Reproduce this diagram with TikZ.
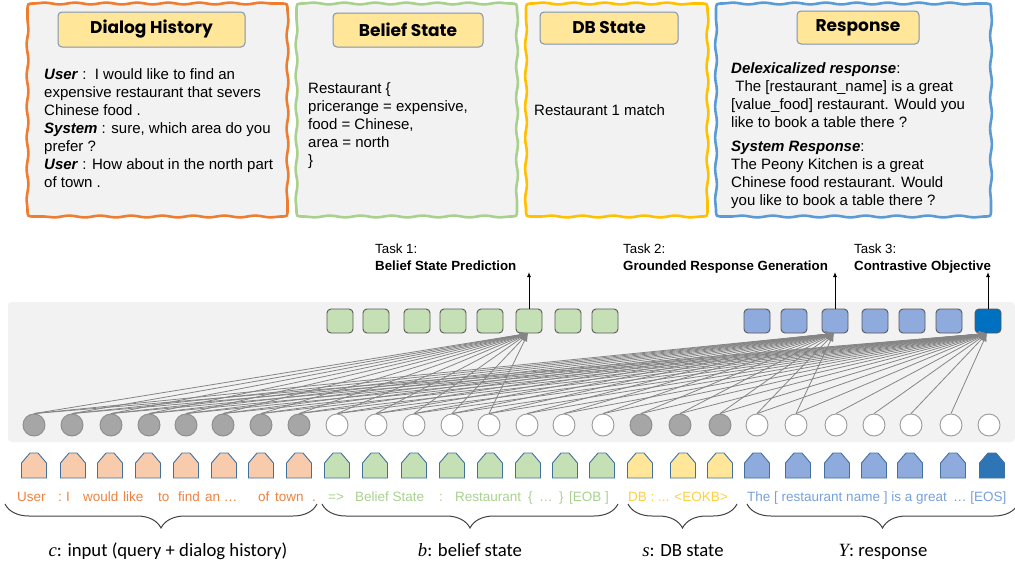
\documentclass[tikz,border=0pt]{standalone}
\usepackage{fontspec}
\setmainfont{Liberation Sans}
\newfontfamily\titlefont{Poppins}
\newfontfamily\labelfont{Carlito}
\newfontfamily\varfont{Liberation Serif}
\usetikzlibrary{decorations.pathmorphing,decorations.pathreplacing,arrows.meta,calc}
\definecolor{cOrange}{HTML}{ED7D31}
\definecolor{cGreen}{HTML}{A9D18E}
\definecolor{cYellow}{HTML}{FFC000}
\definecolor{cBlue}{HTML}{5B9BD5}
\definecolor{panel}{HTML}{F2F2F2}
\definecolor{titlefill}{HTML}{FFE699}
\definecolor{titleborder}{HTML}{7F93B2}
\definecolor{sqGreen}{HTML}{C5E0B4}
\definecolor{sqBlue}{HTML}{8FAADC}
\definecolor{sqDark}{HTML}{0070C0}
\definecolor{tkOrange}{HTML}{F8CBAD}
\definecolor{tkYellow}{HTML}{FFE699}
\definecolor{tkDark}{HTML}{2E75B6}
\definecolor{tkBorder}{HTML}{41719C}
\definecolor{lineGray}{HTML}{858585}
\definecolor{txOrange}{HTML}{EC8240}
\definecolor{txGreen}{HTML}{A9D18E}
\definecolor{txYellow}{HTML}{FFCF40}
\definecolor{txBlue}{HTML}{76A0DC}
\definecolor{braceGray}{HTML}{404040}
\tikzset{
  wavybox/.style={line width=2.6pt, fill=panel,
    decoration={snake,segment length=31pt,amplitude=0.9pt}},
  titlebox/.style={draw=titleborder, fill=titlefill, line width=1pt, rounded corners=4pt,
    font=\titlefont\bfseries\fontsize{17}{20}\selectfont, inner sep=0pt},
  bodytext/.style={anchor=north west, align=left, inner sep=0pt, font=\fontsize{15}{18}\selectfont},
  sq/.style={draw=black!65, line width=0.9pt, rounded corners=4pt, minimum width=26pt, minimum height=24pt, inner sep=0pt},
  circ/.style={circle, draw=black!40, line width=0.9pt, minimum size=22pt, inner sep=0pt},
  conn/.style={draw=lineGray, line width=0.8pt, -{Latex[length=8pt,width=6pt]}},
  taskarrow/.style={draw=black, line width=0.9pt, -{Latex[length=5pt,width=4pt]}},
  tasktext/.style={anchor=base west, inner sep=0pt, font=\fontsize{13.3}{15}\selectfont},
  taskbold/.style={anchor=base west, inner sep=0pt, font=\bfseries\fontsize{13.3}{15}\selectfont},
  tok/.style={draw=tkBorder, line width=0.9pt},
  toktext/.style={anchor=base west, inner sep=0pt, font=\fontsize{13.5}{15}\selectfont},
  bracestyle/.style={draw=braceGray, line width=1pt, decorate,
    decoration={brace, mirror, amplitude=24pt}},
  bottomlabel/.style={anchor=base, inner sep=0pt, font=\labelfont\fontsize{18.7}{21}\selectfont}
}
\newcommand\wavyframe[5]{\draw[wavybox, draw=#1]
  (#2+7,#3) decorate{-- (#4-7,#3)} .. controls (#4,#3) .. (#4,#3+7)
  decorate{-- (#4,#5-7)} .. controls (#4,#5) .. (#4-7,#5)
  decorate{-- (#2+7,#5)} .. controls (#2,#5) .. (#2,#5-7)
  decorate{-- (#2,#3+7)} .. controls (#2,#3) .. (#2+7,#3) -- cycle;}
\begin{document}
\begin{tikzpicture}[x=1pt,y=-1pt]
\useasboundingbox (0,0) rectangle (1015,565);
% top boxes
\wavyframe{cOrange}{27.5}{3.5}{287.5}{216.5}
\wavyframe{cGreen}{296.5}{3.5}{517}{216.5}
\wavyframe{cYellow}{526}{3.5}{707.5}{216.5}
\wavyframe{cBlue}{716}{3.5}{991}{216.5}
\node[titlebox, minimum width=187pt, minimum height=35pt] (tDH) at (151.5,29.5) {Dialog History};
\node[titlebox, minimum width=150pt, minimum height=34pt] (tBS) at (408,30) {Belief State};
\node[titlebox, minimum width=138pt, minimum height=32pt] (tDB) at (609,28) {DB State};
\node[titlebox, minimum width=122pt, minimum height=33pt] (tRS) at (858,27.5) {Response};
\node[bodytext] (xDH) at (44,68) {\textbf{\textit{User}} :\ \ I would like to find an\\expensive restaurant that severs\\Chinese food .\\\textbf{\textit{System}} : sure, which area do you\\prefer ?\\\textbf{\textit{User}} : How about in the north part\\of town .};
\node[bodytext] (xBS) at (308,82) {Restaurant \{\\pricerange = expensive,\\food = Chinese,\\area = north\\\}};
\node[bodytext] (xDB) at (534,104) {Restaurant 1 match};
\node[bodytext] (xRS1) at (731,62) {\textbf{\textit{Delexicalized response}}:\\\ The {[}restaurant\_name{]} is a great\\{[}value\_food{]} restaurant. Would you\\like to book a table there ?};
\node[bodytext] (xRS2) at (731,141) {\textbf{\textit{System Response}}:\\The Peony Kitchen is a great\\Chinese food restaurant. Would\\you like to book a table there ?};
% panel
\fill[panel, rounded corners=4pt] (8,302) rectangle (1015,442);
% squares
\foreach \x [count=\i] in {340,376,417,453,490,529,568,605}
  \node[sq, fill=sqGreen] (g\i) at (\x,321) {};
\foreach \x [count=\i] in {757,794,835,875,912,949}
  \node[sq, fill=sqBlue] (b\i) at (\x,321) {};
\node[sq, fill=sqDark] (b7) at (988,321) {};
% circles
\foreach \x [count=\i] in {34,72,111,149,186,223,261,299}
  \node[circ, fill=black!35, draw=black!45] (c\i) at (\x,425) {};
\foreach \x [count=\i from 9] in {337,376,414,452,489,527,564,603}
  \node[circ, fill=white] (c\i) at (\x,425) {};
\foreach \x [count=\i from 17] in {641,680,720}
  \node[circ, fill=black!35, draw=black!45] (c\i) at (\x,425) {};
\foreach \x [count=\i from 20] in {757,796,836,874,911,951,989}
  \node[circ, fill=white] (c\i) at (\x,425) {};
% connectors
\foreach \i in {1,...,13} \draw[conn] (c\i.north) -- ($(g6.south)+(-1,0)$);
\foreach \i in {1,...,21} \draw[conn] (c\i.north) -- ($(b3.south)+(-1,0)$);
\foreach \i in {1,...,25} \draw[conn] (c\i.north) -- ($(b7.south)+(-1,0)$);
% task arrows
\coordinate (t1) at (529,272);
\coordinate (t2) at (835,272);
\coordinate (t3) at (988,272);
\draw[taskarrow] (g6.north) -- (t1);
\draw[taskarrow] (b3.north) -- (t2);
\draw[taskarrow] (b7.north) -- (t3);
\node[tasktext] (k1a) at (375,253) {Task 1:};
\node[taskbold] (k1b) at (375,270) {Belief State Prediction};
\node[tasktext] (k2a) at (623,253) {Task 2:};
\node[taskbold] (k2b) at (623,270) {Grounded Response Generation};
\node[tasktext] (k3a) at (854,253) {Task 3:};
\node[taskbold] (k3b) at (854,270) {Contrastive Objective};
% token shapes
\foreach \x/\c in {34/tkOrange,73/tkOrange,110/tkOrange,148/tkOrange,186/tkOrange,224/tkOrange,261/tkOrange,299/tkOrange,
  337/sqGreen,375/sqGreen,414/sqGreen,452/sqGreen,490/sqGreen,528/sqGreen,565/sqGreen,602/sqGreen,
  640/tkYellow,683/tkYellow,720/tkYellow,
  757/sqBlue,798/sqBlue,837/sqBlue,874/sqBlue,910/sqBlue,953/sqBlue,992/tkDark}
  \draw[tok, fill=\c] (\x-12.5,478) -- (\x-12.5,463) -- (\x-4,453) -- (\x+4,453) -- (\x+12.5,463) -- (\x+12.5,478) -- cycle;
% token texts
\foreach \x/\w [count=\i] in {17/User,58/:,66/I,83/would,123/like,158/to,178/find,205/an \ldots,258/of,275/town,312/.}
  \node[toktext, text=txOrange] (o\i) at (\x,501) {\w};
\foreach \x/\w [count=\i] in {328/=>,355/Belief State,439/:,455/Restaurant,528/\{,539/\ldots,559/\},569/{[}EOB {]}}
  \node[toktext, text=txGreen] (e\i) at (\x,501) {\w};
\node[toktext, text=txYellow] (y1) at (628,501) {DB : ... <EOKB>};
\node[toktext, text=txBlue] (u1) at (747,501) {The {[} restaurant name {]} is a great};
\node[toktext, text=txBlue] (u2) at (953,501) {\ldots\ {[}EOS{]}};
% braces
\coordinate (br1a) at (5,504); \coordinate (br1b) at (317,504);
\coordinate (br2a) at (322,504); \coordinate (br2b) at (618,504);
\coordinate (br3a) at (628,504); \coordinate (br3b) at (737,504);
\coordinate (br4a) at (747,504); \coordinate (br4b) at (1018,504);
\draw[bracestyle] (br1a) -- (br1b);
\draw[bracestyle] (br2a) -- (br2b);
\draw[bracestyle] (br3a) -- (br3b);
\draw[bracestyle] (br4a) -- (br4b);
\node[bottomlabel] (L1) at (168,556) {{\varfont\itshape c}: input (query + dialog history)};
\node[bottomlabel] (L2) at (470,556) {{\varfont\itshape b}: belief state};
\node[bottomlabel] (L3) at (683,556) {{\varfont\itshape s}: DB state};
\node[bottomlabel] (L4) at (883,556) {{\varfont\itshape Y}: response};
\end{tikzpicture}
\end{document}
